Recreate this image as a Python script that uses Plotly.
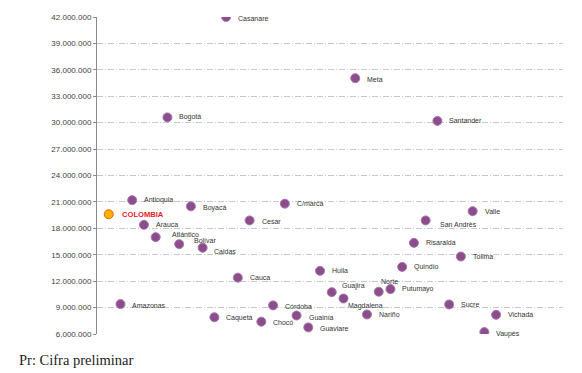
import plotly.graph_objects as go

departments = ["COLOMBIA", "Amazonas", "Antioquia", "Arauca", "Atlántico", "Bogotá", "Bolívar",
               "Boyacá", "Caldas", "Caquetá", "Casanare", "Cauca", "Cesar", "Chocó", "Córdoba",
               "C/marca", "Guainía", "Guaviare", "Huila", "Guajira", "Magdalena", "Meta", "Nariño",
               "Norte", "Putumayo", "Quindío", "Risaralda", "San Andrés", "Santander", "Sucre",
               "Tolima", "Valle", "Vaupés", "Vichada"]
pib_per_capita = [19600000, 9400000, 21200000, 18400000, 17000000, 30600000, 16200000,
                  20500000, 15800000, 7900000, 42000000, 12400000, 18900000, 7400000, 9250000,
                  20800000, 8100000, 6750000, 13170000, 10750000, 10030000, 35050000, 8220000,
                  10800000, 11100000, 13620000, 16350000, 18900000, 30200000, 9350000,
                  14800000, 19950000, 6220000, 8180000]
positions = list(range(1, len(departments) + 1))
y_ticks = list(range(6000000, 42000001, 3000000))

# label offsets (px): right shift, downward shift
label_dx = {"Atlántico": 14, "Bolívar": 13, "Caldas": 9, "Guajira": 8, "Magdalena": 2,
            "Norte": 0, "San Andrés": 12, "COLOMBIA": 11}
label_dy = {"Atlántico": -3, "Bolívar": -4, "Caldas": 4, "Boyacá": 1.5, "Guajira": -6,
            "Magdalena": 7.5, "Norte": -10.5, "San Andrés": 4, "Vaupés": 1.5, "Cesar": 1,
            "Casanare": 1, "Meta": 1, "Amazonas": 1, "Córdoba": 1, "Guainía": 1.5, "Chocó": 1,
            "Caquetá": 1, "Guaviare": 1.5}

PURPLE = "#8c4d8c"
fill = ["#ffb000" if d == "COLOMBIA" else PURPLE for d in departments]
edge = ["#e06a00" if d == "COLOMBIA" else "#a877a8" for d in departments]

fig = go.Figure()
fig.add_trace(go.Scatter(
    x=positions, y=pib_per_capita, mode="markers",
    marker=dict(size=9, color=fill, line=dict(color=edge, width=1)),
    hoverinfo="text", text=departments, showlegend=False,
))

annotations = []
for d, xv, yv in zip(departments, positions, pib_per_capita):
    is_col = d == "COLOMBIA"
    annotations.append(dict(
        x=xv, y=yv, xref="x", yref="y", text=("<b>%s</b>" % d) if is_col else d,
        showarrow=False, xanchor="left", yanchor="middle",
        xshift=label_dx.get(d, 10), yshift=-label_dy.get(d, 0),
        font=dict(family="Liberation Sans, Arial", size=7.6 if is_col else 7,
                  color="#e8202a" if is_col else "#333333"),
    ))
annotations.append(dict(
    text="Pr: Cifra preliminar", xref="paper", yref="paper", x=-0.171, y=-0.082,
    xanchor="left", yanchor="middle", showarrow=False,
    font=dict(family="Liberation Serif, Times New Roman", size=14.5, color="#222222"),
))

fig.update_layout(
    width=582, height=373,
    margin=dict(l=97, r=19, t=17, b=39),
    paper_bgcolor="white", plot_bgcolor="white",
    separators=",.",
    annotations=annotations,
    xaxis=dict(range=[0, 39.7], showgrid=False, zeroline=False, showticklabels=False,
               showline=False, ticks=""),
    yaxis=dict(range=[6000000, 42000000], tickvals=y_ticks, tickformat=",d",
               showgrid=True, gridcolor="#c2cacf", gridwidth=1, griddash="6px,2px,1px,2px",
               zeroline=False, showline=True, linecolor="#8a8a8a", linewidth=1,
               ticks="outside", ticklen=3, tickcolor="#8a8a8a",
               tickfont=dict(family="Liberation Sans, Arial", size=8, color="#404040")),
)

fig.write_html("out.html", config={"displayModeBar": False},
               post_script="document.body.style.margin='0';")
